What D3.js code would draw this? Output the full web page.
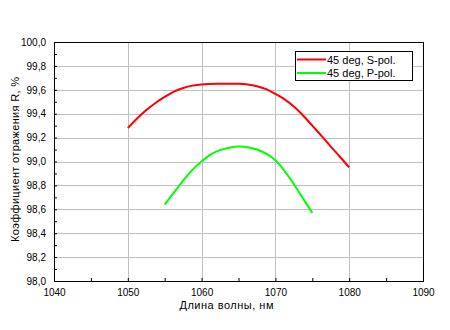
<!DOCTYPE html>
<html>
<head>
<meta charset="utf-8">
<script src="https://cdn.jsdelivr.net/npm/d3@7"></script>
<style>
  body { margin: 0; background: #fff; }
  svg { display: block; font-family: "Liberation Sans", Arial, sans-serif; }
</style>
</head>
<body>
<div id="chart"></div>
<script>
// wavelength, nm / reflectance, %
var sWave = [1050, 1051.25, 1052.5, 1053.75, 1055, 1056.25, 1057.5, 1058.75, 1060, 1062.5, 1065,
             1066.25, 1067.5, 1068.75, 1070, 1071.25, 1072.5, 1073.75, 1075, 1076.25, 1077.5, 1078.75, 1080];
var sVals = [99.28, 99.36, 99.43, 99.49, 99.54, 99.585, 99.615, 99.635, 99.645, 99.65, 99.65,
             99.645, 99.63, 99.605, 99.565, 99.52, 99.46, 99.385, 99.30, 99.215, 99.125, 99.04, 98.95];
var pWave = [1055, 1056.25, 1057.5, 1058.75, 1060, 1061.25, 1062.5, 1063.75, 1065,
             1066.25, 1067.5, 1068.75, 1070, 1071.25, 1072.5, 1073.75, 1075];
var pVals = [98.64, 98.74, 98.84, 98.93, 99.00, 99.06, 99.095, 99.115, 99.125,
             99.12, 99.10, 99.065, 99.01, 98.92, 98.81, 98.69, 98.57];
var xTicks = [1040, 1050, 1060, 1070, 1080, 1090];
var yTicks = [98.0, 98.2, 98.4, 98.6, 98.8, 99.0, 99.2, 99.4, 99.6, 99.8, 100.0];
var seriesNames = ["45 deg, S-pol.", "45 deg, P-pol."];
var seriesColors = ["#ff0000", "#00ff00"];

var W = 450, H = 330;
var margin = { top: 42, right: 27, bottom: 49, left: 54 };
var width = W - margin.left - margin.right,
    height = H - margin.top - margin.bottom;

var svg = d3.select("#chart").append("svg")
  .attr("width", W)
  .attr("height", H)
  .append("g")
  .attr("transform", "translate(" + margin.left + "," + margin.top + ")");

// scales
var x = d3.scaleLinear().domain([1040, 1090]).range([0, width]);
var y = d3.scaleLinear().domain([98, 100]).range([height, 0]);

// grid
svg.append("g").selectAll("line")
  .data(xTicks.slice(1, -1))
  .enter().append("line")
  .attr("x1", d => Math.round(x(d)) + 0.5).attr("x2", d => Math.round(x(d)) + 0.5)
  .attr("y1", 0).attr("y2", height)
  .attr("stroke", "#c0c0c0");
svg.append("g").selectAll("line")
  .data(yTicks.slice(1, -1))
  .enter().append("line")
  .attr("y1", d => Math.round(y(d)) + 0.5).attr("y2", d => Math.round(y(d)) + 0.5)
  .attr("x1", 0).attr("x2", width)
  .attr("stroke", "#c0c0c0");

// axes: ticks point inward
var fmt = d => d3.format(".1f")(d).replace(".", ",");
var xAxis = d3.axisBottom(x).tickValues(d3.range(1040, 1091, 5))
  .tickSize(-3).tickPadding(8).tickFormat(d => xTicks.includes(d) ? d : "");
var yAxis = d3.axisLeft(y).tickValues(d3.range(98, 100.01, 0.1))
  .tickSize(-3).tickPadding(8)
  .tickFormat(d => yTicks.some(t => Math.abs(t - d) < 1e-6) ? fmt(d) : "");

var gX = svg.append("g")
  .attr("transform", "translate(0," + height + ")")
  .call(xAxis);
var gY = svg.append("g").call(yAxis);
[gX, gY].forEach(function(g) {
  g.select(".domain").remove();
  g.selectAll("line").attr("stroke", "#000");
  g.selectAll("text").attr("fill", "#000").style("font-size", "10px");
});

// frame
svg.append("rect")
  .attr("x", 0.5).attr("y", 0.5)
  .attr("width", width).attr("height", height)
  .attr("fill", "none").attr("stroke", "#000");

// curves
var line = d3.line()
  .x(d => x(d[0]))
  .y(d => y(d[1]))
  .curve(d3.curveCatmullRom.alpha(0.5));

var series = [
  d3.zip(sWave, sVals),
  d3.zip(pWave, pVals)
];
svg.selectAll(".curve")
  .data(series)
  .enter().append("path")
  .attr("class", "curve")
  .attr("d", line)
  .attr("fill", "none")
  .attr("stroke", (d, i) => seriesColors[i])
  .attr("stroke-width", 2);

// legend
var lg = svg.append("g").attr("transform", "translate(" + (x(1040) + 241) + ",9)");
lg.append("rect")
  .attr("x", 0.5).attr("y", 0.5)
  .attr("width", 117).attr("height", 29)
  .attr("fill", "#fff").attr("stroke", "#000");
seriesNames.forEach(function(name, i) {
  var ly = 8.5 + i * 13.5;
  lg.append("line")
    .attr("x1", 2).attr("x2", 31)
    .attr("y1", ly).attr("y2", ly)
    .attr("stroke", seriesColors[i]).attr("stroke-width", 2);
  lg.append("text")
    .attr("x", 32).attr("y", ly + 4)
    .style("font-size", "11px")
    .text(name);
});

// axis titles
svg.append("text")
  .attr("x", width / 2 - 12)
  .attr("y", height + 28)
  .attr("text-anchor", "middle")
  .attr("textLength", 94)
  .attr("lengthAdjust", "spacing")
  .style("font-size", "11px")
  .text("Длина волны, нм");

svg.append("text")
  .attr("transform", "rotate(-90)")
  .attr("x", -(159.5 - margin.top))
  .attr("y", -35)
  .attr("text-anchor", "middle")
  .attr("textLength", 165)
  .attr("lengthAdjust", "spacing")
  .style("font-size", "11px")
  .text("Коэффициент отражения R, %");
</script>
</body>
</html>
